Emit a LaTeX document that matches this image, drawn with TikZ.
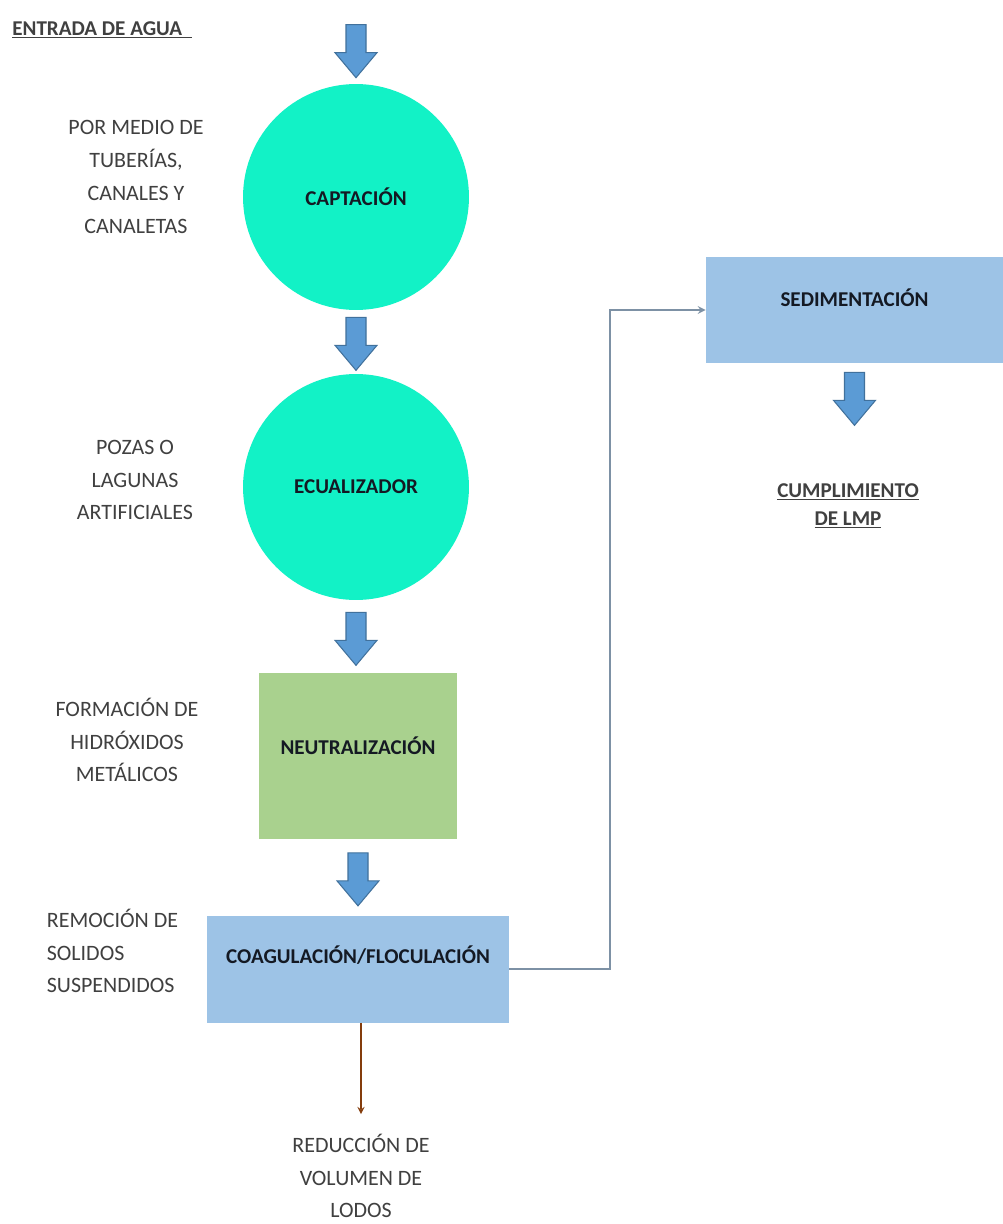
\documentclass[tikz,border=0pt]{standalone}
\usepackage{fontspec}
\setmainfont{Carlito}
\usetikzlibrary{positioning}

\definecolor{turquesa}{RGB}{18,242,198}
\definecolor{verde}{RGB}{169,209,142}
\definecolor{celeste}{RGB}{157,195,230}
\definecolor{azulflecha}{RGB}{91,155,213}
\definecolor{bordeflecha}{RGB}{65,113,156}
\definecolor{gristexto}{RGB}{64,64,64}
\definecolor{negro}{RGB}{20,25,35}
\definecolor{conector}{RGB}{125,145,165}
\definecolor{marron}{RGB}{132,60,12}

% flecha gruesa hacia abajo, #1 = centro del borde superior
\newcommand{\flecha}[1]{\draw[bloque] #1 ++(-10,0) -- ++(0,28) -- ++(-11,0) -- ++(21,25) -- ++(21,-25) -- ++(-11,0) -- ++(0,-28) -- cycle;}

\begin{document}
\begin{tikzpicture}[x=0.02cm, y=-0.02cm,
	c/.style={circle, fill=turquesa, minimum size=4.52cm, inner sep=0pt, text=negro, font=\bfseries\fontsize{12}{14}\selectfont},
	caja/.style={rectangle, inner sep=0pt, text=negro, text height=9.6pt, font=\bfseries\fontsize{12}{14}\selectfont},
	lado/.style={align=center, text=gristexto, inner sep=2pt, font=\fontsize{12.5}{18.7}\selectfont},
	titulo/.style={text=gristexto, inner sep=0pt, font=\bfseries\fontsize{12}{16}\selectfont},
	bloque/.style={fill=azulflecha, draw=bordeflecha, line width=0.6pt},
	linea/.style={->, >=stealth, draw=conector, line width=1pt},
	lodo/.style={->, >=stealth, draw=marron, line width=0.8pt}]
		\useasboundingbox (0,0) rectangle (1003,1224);
		\fill[white] (0,0) rectangle (1003,1224);

		\node[c] (capt) at (356,197) {CAPTACIÓN};
		\node[c] (ecua) at (356,487) {ECUALIZADOR};
		\node[caja, fill=verde, minimum width=3.96cm, minimum height=3.34cm, text depth=11pt] (neut) at (358,756) {NEUTRALIZACIÓN};
		\node[caja, fill=celeste, minimum width=6.04cm, minimum height=2.14cm, text depth=15.6pt] (coag) at (358,969) {COAGULACIÓN/FLOCULACIÓN};
		\node[caja, fill=celeste, minimum width=5.94cm, minimum height=2.12cm, text depth=13.4pt] (sed) at (854.5,310) {SEDIMENTACIÓN};

		\node[titulo, anchor=west] (entrada) at (12,30) {\underline{ENTRADA DE AGUA\ \ }};
		\node[titulo, align=center] (lmp) at (848,506) {\underline{CUMPLIMIENTO}\\\underline{DE LMP}};

		\node[lado] (capt_txt) at (136,177) {POR MEDIO DE\\TUBERÍAS,\\CANALES Y\\CANALETAS};
		\node[lado] (ecua_txt) at (135,480) {POZAS O\\LAGUNAS\\ARTIFICIALES};
		\node[lado] (neut_txt) at (127,740) {FORMACIÓN DE\\HIDRÓXIDOS\\METÁLICOS};
		\node[lado, align=left, anchor=west] (coag_txt) at (43,951) {REMOCIÓN DE\\SOLIDOS\\SUSPENDIDOS};
		\node[lado] (lodos) at (361,1176) {REDUCCIÓN DE\\VOLUMEN DE\\LODOS};

		\flecha{([yshift=1.18cm]capt.north)}
		\flecha{([yshift=-0.14cm]capt.south)}
		\flecha{([yshift=-0.24cm]ecua.south)}
		\flecha{([yshift=-0.26cm]neut.south)}
		\flecha{([yshift=-0.18cm]sed.south)}

		\draw[linea] (coag.east) -- ++(101,0) |- (sed.west);
		\draw[lodo] (coag.south -| lodos.north) -- ([yshift=0.32cm]lodos.north);
	\end{tikzpicture}
\end{document}
